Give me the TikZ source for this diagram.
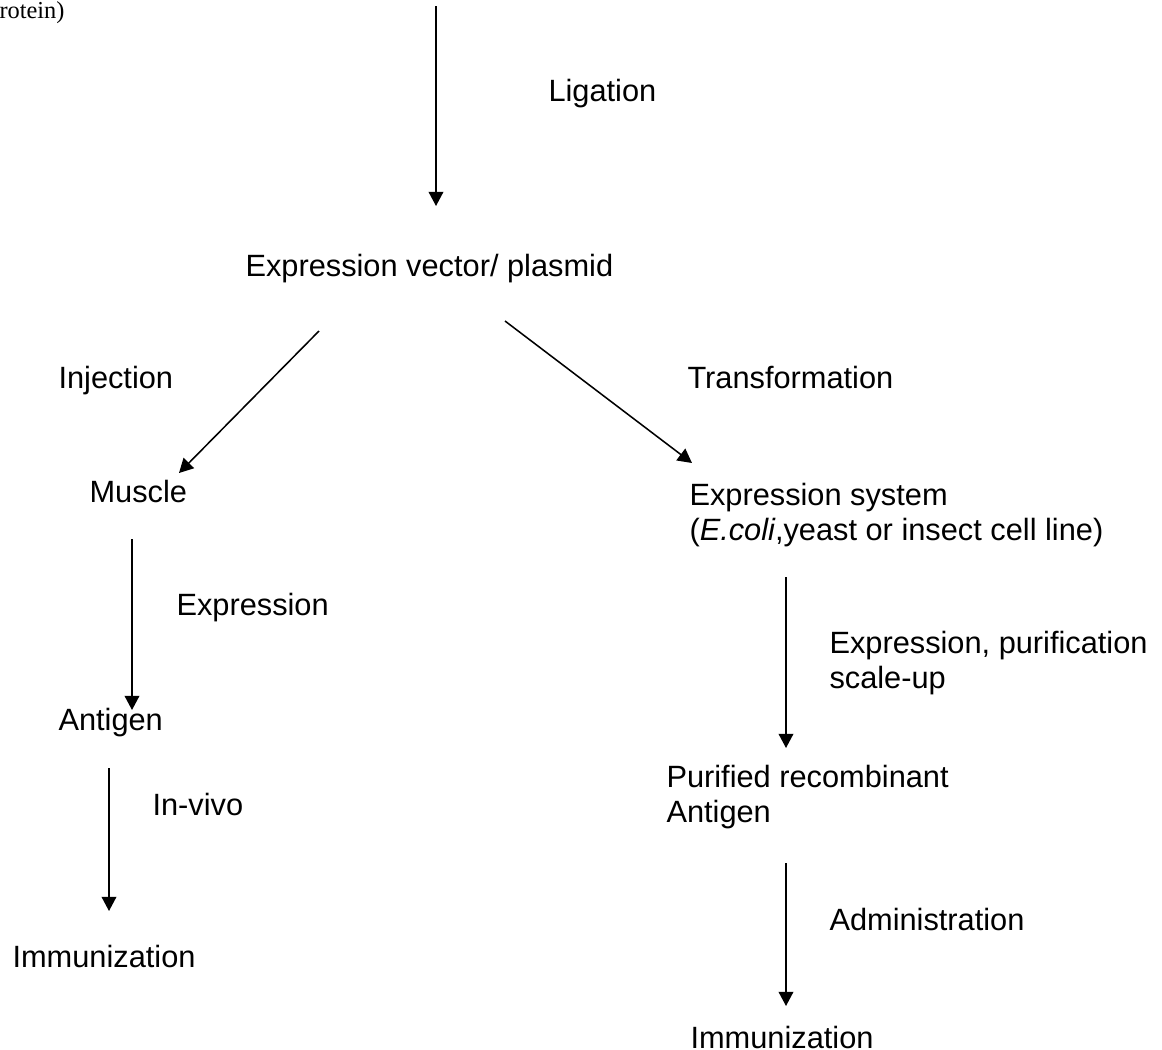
\documentclass[tikz,border=0pt]{standalone}
\usepackage{fontspec}
\setmainfont{Liberation Sans}
\newfontfamily\timesfont{Liberation Serif}
\usetikzlibrary{arrows.meta}

\begin{document}
\begin{tikzpicture}[x=0.39pt,y=-0.39pt,
  txt/.style={anchor=base west,inner sep=0pt,align=left,font=\fontsize{12}{13.65}\selectfont},
  flow/.style={line width=0.6pt,-{Triangle[length=5.5pt,width=5.7pt]}}]
\useasboundingbox (0,0) rectangle (1162,1050);
% text
\node[txt,font=\timesfont\fontsize{9.5}{11}\selectfont] (prot) at (-1,18) {rotein)};
\node[txt] (lig) at (548,101) {Ligation};
\node[txt] (vec) at (245,276) {Expression vector/ plasmid};
\node[txt] (inj) at (58,388) {Injection};
\node[txt] (trans) at (687,388) {Transformation};
\node[txt] (mus) at (89,502) {Muscle};
\node[txt] (sys) at (689,540) {Expression system\\(\textit{E.coli},yeast or insect cell line)};
\node[txt] (expr) at (176,615) {Expression};
\node[txt] (ant) at (58,730) {Antigen};
\node[txt] (pur) at (829,688) {Expression, purification\\scale-up};
\node[txt] (vivo) at (152,815) {In-vivo};
\node[txt] (rec) at (666,822) {Purified recombinant\\Antigen};
\node[txt] (imm) at (12,967) {Immunization};
\node[txt] (adm) at (829,930) {Administration};
\node[txt] (imm2) at (690,1048) {Immunization};
% arrow ends
\coordinate (ligA) at (436,6);   \coordinate (ligB) at (436,206);
\coordinate (injA) at (319,331); \coordinate (injB) at (179,473);
\coordinate (traA) at (505,321); \coordinate (traB) at (692,463);
\coordinate (musA) at (132,539); \coordinate (musB) at (132,710);
\coordinate (antA) at (109,768); \coordinate (antB) at (109,911);
\coordinate (sysA) at (786,577); \coordinate (sysB) at (786,748);
\coordinate (recA) at (786,863); \coordinate (recB) at (786,1006);
\draw[flow] (ligA) -- (ligB);
\draw[flow] (injA) -- (injB);
\draw[flow] (traA) -- (traB);
\draw[flow] (musA) -- (musB);
\draw[flow] (antA) -- (antB);
\draw[flow] (sysA) -- (sysB);
\draw[flow] (recA) -- (recB);
\end{tikzpicture}
\end{document}
